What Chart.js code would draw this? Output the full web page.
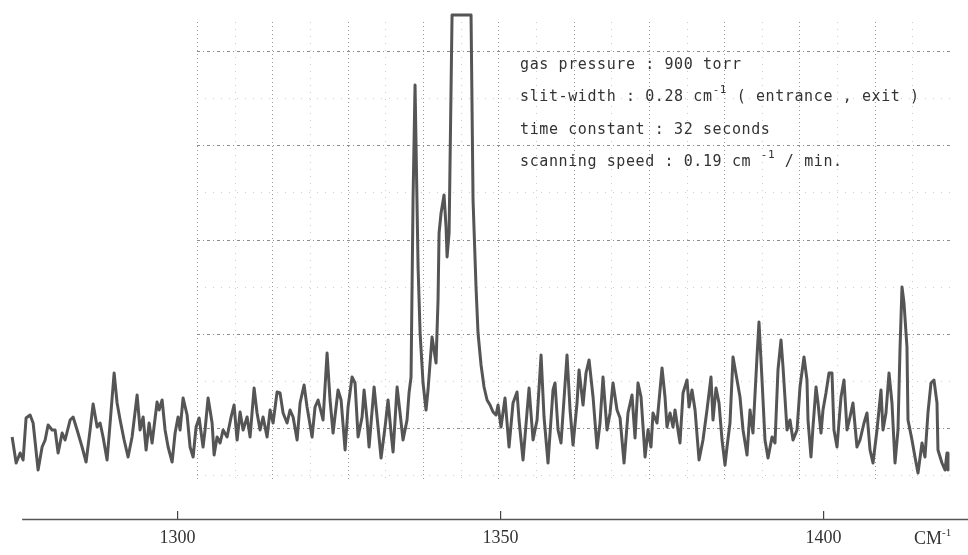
<!DOCTYPE html>
<html>
<head>
<meta charset="utf-8">
<script src="https://cdn.jsdelivr.net/npm/chart.js@4.4.1/dist/chart.umd.min.js"></script>
<style>
html,body{margin:0;padding:0;background:#fff;}
#wrap{position:relative;width:968px;height:555px;overflow:hidden;}
canvas{position:absolute;left:0;top:0;}
.note{position:absolute;left:520px;font-family:"DejaVu Sans Mono",monospace;font-size:15px;line-height:20px;color:#333;letter-spacing:0.6px;white-space:pre;}
.note sup{font-size:11px;vertical-align:baseline;position:relative;top:-8px;}
.unit{position:absolute;left:914px;top:528px;font-family:"Liberation Serif",serif;font-size:18px;color:#333;white-space:pre;}
.unit sup{font-size:11px;vertical-align:baseline;position:relative;top:-8px;}
</style>
</head>
<body>
<div id="wrap">
<canvas id="c" width="968" height="555"></canvas>
<div class="note" style="top:54px">gas pressure : 900 torr</div>
<div class="note" style="top:86px">slit-width : 0.28 cm<sup>-1</sup> ( entrance , exit )</div>
<div class="note" style="top:119px">time constant : 32 seconds</div>
<div class="note" style="top:151px">scanning speed : 0.19 cm <sup>-1</sup> / min.</div>
<div class="unit">CM<sup>-1</sup></div>
</div>
<script>
// Raman shift (cm^-1)
const wavenumbers = [
1274.38,1275.00,1275.62,1276.08,1276.54,1277.16,1277.63,1278.40,1279.02,1279.49,
1279.95,1280.57,1281.03,1281.50,1282.12,1282.58,1283.36,1283.82,1284.44,1285.21,
1285.83,1286.45,1286.92,1287.54,1288.00,1288.46,1289.08,1289.55,1290.17,1290.63,
1291.10,1291.72,1292.33,1292.95,1293.73,1294.19,1294.66,1295.12,1295.59,1296.05,
1296.82,1297.13,1297.60,1298.06,1298.53,1299.15,1299.61,1300.07,1300.38,1300.85,
1301.47,1301.93,1302.40,1302.86,1303.33,1303.94,1304.25,1304.72,1305.34,1305.65,
1306.11,1306.58,1307.04,1307.66,1308.28,1308.74,1309.21,1309.67,1310.14,1310.76,
1311.22,1311.84,1312.30,1312.77,1313.23,1313.85,1314.32,1314.78,1315.40,1315.86,
1316.33,1316.95,1317.41,1317.88,1318.50,1318.96,1319.58,1320.04,1320.82,1321.28,
1321.75,1322.52,1323.14,1323.60,1324.07,1324.84,1325.31,1325.93,1326.39,1327.01,
1327.47,1327.94,1328.56,1328.87,1329.33,1329.64,1330.42,1330.88,1331.50,1332.12,
1332.58,1333.05,1333.36,1333.98,1334.44,1334.90,1335.52,1335.83,1336.14,1336.45,
1336.76,1337.23,1337.54,1338.00,1338.46,1338.77,1339.39,1339.70,1340.01,1340.32,
1340.48,1340.79,1341.25,1341.56,1341.72,1342.03,1342.49,1345.43,1345.74,1346.20,
1346.51,1346.98,1347.44,1347.91,1348.37,1348.84,1349.30,1349.61,1350.07,1350.69,
1351.31,1351.93,1352.55,1352.86,1353.48,1354.41,1355.03,1355.65,1356.27,1356.73,
1357.35,1358.12,1358.43,1358.90,1359.36,1360.29,1360.76,1361.22,1361.84,1362.15,
1362.77,1363.23,1363.70,1364.32,1364.94,1365.40,1365.86,1366.48,1366.95,1367.41,
1368.03,1368.50,1369.12,1369.73,1370.35,1370.82,1371.28,1371.75,1372.37,1372.83,
1373.29,1373.60,1374.22,1374.69,1375.00,1375.46,1375.77,1376.24,1376.70,1377.01,
1377.47,1377.78,1378.25,1378.87,1379.18,1379.64,1380.11,1380.73,1381.34,1381.96,
1382.58,1382.89,1383.36,1383.82,1384.29,1384.75,1385.06,1385.52,1385.99,1386.61,
1387.07,1387.54,1388.16,1388.62,1389.08,1389.70,1390.01,1390.48,1390.94,1391.41,
1392.03,1392.49,1392.95,1393.42,1393.73,1394.35,1394.81,1395.28,1395.90,1396.36,
1396.98,1397.44,1397.60,1398.06,1398.37,1398.84,1399.15,1399.61,1399.92,1400.38,
1400.85,1401.31,1401.62,1402.09,1402.71,1403.17,1403.64,1404.10,1404.56,1405.18,
1405.65,1406.27,1406.73,1407.20,1407.66,1408.28,1408.90,1409.21,1409.67,1410.14,
1410.60,1411.07,1411.53,1411.84,1412.15,1412.46,1412.92,1413.08,1413.70,1414.16,
1414.63,1415.25,1415.71,1416.17,1416.64,1417.10,1417.57,1417.72,1418.34,1418.81,
1419.12,1419.27
];
// Recorded intensity (arbitrary units)
const intensities = [
16.4,11.2,13.2,11.8,20.2,20.8,19.2,9.8,14.4,15.8,
18.8,17.8,17.8,13.2,17.2,15.8,19.8,20.4,17.8,14.4,
11.4,17.8,23.0,18.4,19.2,16.4,11.8,19.2,29.2,23.2,
19.8,15.8,12.4,16.4,24.8,17.8,20.4,13.8,19.2,15.2,
23.4,21.8,23.8,17.8,14.4,11.4,17.2,20.4,17.8,24.2,
20.8,14.4,12.4,18.4,20.2,14.4,17.8,24.2,19.2,12.8,
16.4,15.2,17.8,16.4,20.4,22.8,15.8,21.4,17.8,20.4,
16.4,26.2,21.2,17.8,20.4,16.4,21.8,19.2,25.4,25.2,
21.2,19.2,21.8,20.4,15.8,23.2,26.8,22.4,16.4,22.4,
23.8,19.8,33.2,23.8,17.2,25.8,23.8,13.8,22.4,28.4,
27.2,16.4,20.4,25.8,19.8,14.4,26.4,20.4,12.2,18.4,
23.8,17.2,13.4,26.4,21.2,15.8,19.8,25.2,28.4,63.8,
86.8,50.4,37.2,27.2,21.8,25.8,36.4,33.8,31.2,43.8,
57.2,61.2,64.8,58.4,52.4,57.2,100.8,100.8,63.8,46.4,
37.2,30.8,26.4,23.8,22.8,21.4,20.8,22.8,18.4,24.2,
14.4,23.2,25.4,19.8,11.8,26.2,15.8,19.8,32.8,20.4,
11.2,25.8,27.2,17.8,15.2,32.8,21.8,14.8,23.2,29.8,
22.8,29.2,31.8,24.4,14.2,19.2,28.4,17.8,21.2,27.2,
21.8,20.2,11.2,21.2,24.8,16.2,27.2,24.4,12.4,17.8,
14.4,21.2,19.2,25.8,30.2,24.4,18.4,21.2,18.4,21.8,
17.8,15.2,25.2,27.8,22.4,25.8,21.8,11.8,15.8,21.8,
28.4,19.8,26.2,23.2,15.8,10.8,14.4,19.2,32.4,27.8,
24.4,17.8,12.8,21.8,17.2,32.4,39.4,27.8,15.8,12.2,
16.4,15.2,29.8,35.8,30.4,17.8,19.8,15.8,17.8,26.4,
32.4,27.8,19.8,12.4,18.4,26.4,23.2,17.2,21.8,25.2,
29.2,29.2,17.8,14.4,24.4,27.8,17.8,20.4,23.2,14.4,
15.8,19.2,21.2,13.8,11.2,17.8,25.8,17.8,21.2,29.2,
23.2,11.2,17.8,33.8,46.4,43.2,34.4,19.8,15.8,12.4,
9.2,15.2,12.4,21.2,27.2,27.8,23.2,13.8,11.2,9.8,
13.2,9.8
];
const tickValues = [1300, 1350, 1400];
const tickLabels = ['1300', '1350', '1400'];
const axisStart = 1275.93;

// chart-paper grid (styling, in data units)
const paperGrid = {
  xStart: 1303.0, xStep: 5.83, xCount: 20,
  yStart: 8.8, yStep: 9.42, yCount: 10,
  xFrom: 1303.0, xTo: 1419.6, yFrom: 7.8, yTo: 99.4
};

const gridPlugin = {
  id: 'paperGrid',
  beforeDatasetsDraw(chart) {
    const {ctx, scales: {x, y}} = chart;
    const g = paperGrid;
    ctx.save();
    ctx.lineWidth = 1;
    for (let k = 0; k < g.xCount; k++) {
      const px = Math.round(x.getPixelForValue(g.xStart + k * g.xStep)) + 0.5;
      const major = k % 2 === 0;
      ctx.strokeStyle = major ? '#9a9a9a' : '#cccccc';
      ctx.setLineDash(major ? [1, 3] : [1, 6]);
      ctx.beginPath();
      ctx.moveTo(px, y.getPixelForValue(g.yTo));
      ctx.lineTo(px, y.getPixelForValue(g.yFrom));
      ctx.stroke();
    }
    for (let k = 0; k < g.yCount; k++) {
      const py = Math.round(y.getPixelForValue(g.yStart + k * g.yStep)) + 0.5;
      const major = k % 2 === 1;
      ctx.strokeStyle = major ? '#8c8c8c' : '#cfcfcf';
      ctx.setLineDash(major ? [3, 3, 1, 3] : [1, 7]);
      ctx.beginPath();
      ctx.moveTo(x.getPixelForValue(g.xFrom), py);
      ctx.lineTo(x.getPixelForValue(g.xTo), py);
      ctx.stroke();
    }
    ctx.restore();
  }
};

const axisLinePlugin = {
  id: 'axisLine',
  afterDraw(chart) {
    const {ctx, chartArea, scales: {x}} = chart;
    const yy = chartArea.bottom + chart.options.scales.x.grid.tickLength + 0.5;
    ctx.save();
    ctx.strokeStyle = '#555';
    ctx.lineWidth = 1.3;
    ctx.beginPath();
    ctx.moveTo(x.getPixelForValue(axisStart), yy);
    ctx.lineTo(chartArea.right, yy);
    ctx.stroke();
    ctx.restore();
  }
};

new Chart(document.getElementById('c'), {
  type: 'line',
  data: {
    datasets: [{
      data: wavenumbers.map((w, i) => ({x: w, y: intensities[i]})),
      borderColor: '#555555',
      borderWidth: 3,
      borderJoinStyle: 'round',
      pointRadius: 0,
      tension: 0,
      fill: false,
      clip: false
    }]
  },
  options: {
    responsive: false,
    animation: false,
    layout: {padding: {left: 10, right: 0, top: 0, bottom: 0}},
    plugins: {legend: {display: false}, tooltip: {enabled: false}},
    scales: {
      x: {
        type: 'linear',
        min: 1274.05,
        max: 1422.37,
        afterBuildTicks: s => { s.ticks = tickValues.map(v => ({value: v})); },
        afterFit: s => { s.height = 44; },
        ticks: {
          autoSkip: false,
          maxRotation: 0,
          padding: 8,
          color: '#333',
          font: {family: 'Liberation Serif', size: 18},
          callback: v => tickLabels[tickValues.indexOf(v)]
        },
        grid: {display: true, drawOnChartArea: false, drawTicks: true, tickLength: 8, color: '#444', lineWidth: 1.2},
        border: {display: false}
      },
      y: {
        display: false,
        min: 1.6,
        max: 103.8
      }
    }
  },
  plugins: [gridPlugin, axisLinePlugin]
});
</script>
</body>
</html>
